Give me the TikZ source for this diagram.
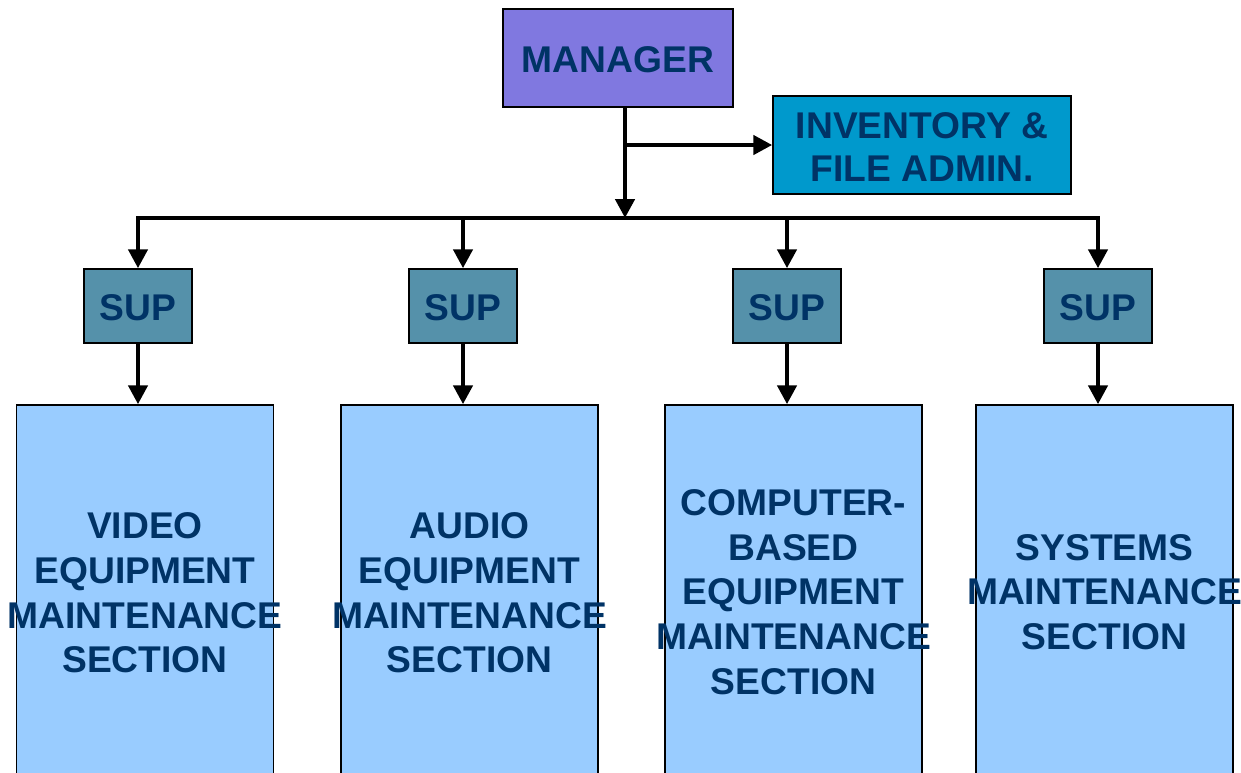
\documentclass[tikz,border=0pt]{standalone}
\usepackage{fontspec}
\setmainfont{Liberation Sans}
\usetikzlibrary{arrows.meta}
\definecolor{mgrfill}{HTML}{8078E0}
\definecolor{invfill}{HTML}{0099CC}
\definecolor{supfill}{HTML}{5591AA}
\definecolor{secfill}{HTML}{99CCFF}
\definecolor{txt}{HTML}{003366}
\newcommand{\lowtxt}[1]{\raisebox{-2pt}[\height][\depth]{#1}}
\tikzset{
  box/.style={draw=black, line width=1.5pt, rectangle, inner sep=0pt, text=txt,
    font=\fontsize{37.2}{44.7}\selectfont\bfseries, align=center},
  mgr/.style={box, fill=mgrfill, minimum width=230pt, minimum height=98pt},
  inv/.style={box, fill=invfill, minimum width=298pt, minimum height=98pt,
    font=\fontsize{37.2}{43.5}\selectfont\bfseries},
  supbox/.style={box, fill=supfill, minimum width=108pt, minimum height=74pt},
  secbox/.style={box, fill=secfill, minimum width=257pt, minimum height=400pt},
  sectxt/.style={text=txt, inner sep=0pt, align=center,
    font=\fontsize{37.2}{44.7}\selectfont\bfseries},
  conn/.style={line width=4.5pt, line cap=rect},
  arr/.style={line width=4.5pt, -{Triangle[length=19pt 0,width=19pt 0]}},
}
\begin{document}
\begin{tikzpicture}[x=1pt,y=-1pt]
\useasboundingbox (0,0) rectangle (1241,772);
\clip (0,0) rectangle (1241,772);
% top level
\node[mgr] (manager) at (618,58) {\lowtxt{MANAGER}};
\node[inv] (inv) at (922,145) {\lowtxt{INVENTORY \&}\\\lowtxt{FILE ADMIN.}};
% supervisors
\node[supbox] (sup1) at (138,306) {\lowtxt{SUP}};
\node[supbox] (sup2) at (463,306) {\lowtxt{SUP}};
\node[supbox] (sup3) at (787,306) {\lowtxt{SUP}};
\node[supbox] (sup4) at (1098,306) {\lowtxt{SUP}};
% sections
\node[secbox] (b1) at (145,605) {};
\node[secbox] (b2) at (469.5,605) {};
\node[secbox] (b3) at (793.5,605) {};
\node[secbox] (b4) at (1104.5,605) {};
\node[sectxt] (t1) at (145,593) {VIDEO\\EQUIPMENT\\MAINTENANCE\\SECTION};
\node[sectxt] (t2) at (469.5,593) {AUDIO\\EQUIPMENT\\MAINTENANCE\\SECTION};
\node[sectxt] (t3) at (793.5,592) {COMPUTER-\\BASED\\EQUIPMENT\\MAINTENANCE\\SECTION};
\node[sectxt] (t4) at (1104.5,592) {SYSTEMS\\MAINTENANCE\\SECTION};
% connectors
\coordinate (mbot) at ([xshift=7pt]manager.south);
\coordinate (busy) at (0,218);
\draw[arr] (mbot) -- (mbot |- busy);
\draw[arr] (mbot |- inv.west) -- (inv.west);
\draw[conn] (sup1.north |- busy) -- (sup4.north |- busy);
\foreach \i in {1,2,3,4} {
  \draw[arr] (sup\i.north |- busy) -- (sup\i.north);
  \draw[arr] (sup\i.south) -- (sup\i.south |- b\i.north);
}
\end{tikzpicture}
\end{document}
